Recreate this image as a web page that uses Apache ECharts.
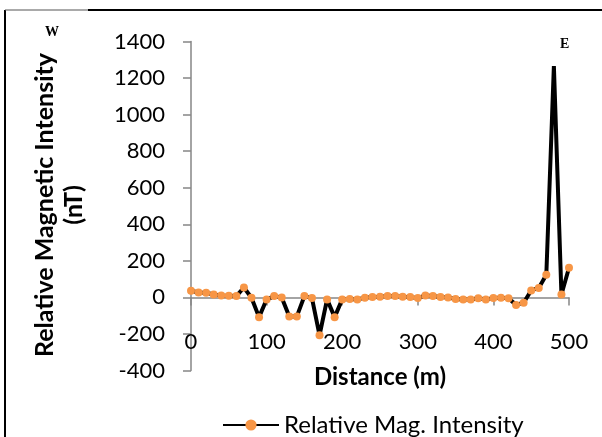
<!DOCTYPE html>
<html>
<head>
<meta charset="utf-8">
<script src="https://cdn.jsdelivr.net/npm/echarts@6/dist/echarts.min.js"></script>
<style>
html,body{margin:0;padding:0;background:#fff;}
#c{width:602px;height:437px;}
</style>
</head>
<body>
<div id="c"></div>
<script>
var distances = [0,10,20,30,40,50,60,70,80,90,100,110,120,130,140,150,160,170,180,190,200,210,220,230,240,250,260,270,280,290,300,310,320,330,340,350,360,370,380,390,400,410,420,430,440,450,460,470,480,490,500];
var intensity = [36,27,25,16,11,9,7,54,-2,-108,-12,7,0,-104,-104,7,-4,-207,-11,-108,-11,-9,-11,-2,2,4,7,7,4,2,-4,11,7,2,0,-9,-12,-11,-5,-11,-4,-2,-5,-41,-29,38,52,124,1265,16,162];
var yTicks = [-400,-200,0,200,400,600,800,1000,1200,1400];
var xTicks = [0,100,200,300,400,500];
var seriesName = 'Relative Mag. Intensity';
var yTitle1 = 'Relative Magnetic Intensity';
var yTitle2 = '(nT)';
var xTitle = 'Distance (m)';
var hiddenMarkerAt = 480;

var FONT = 'Lato, "Open Sans", sans-serif';
var chart = echarts.init(document.getElementById('c'), null, {renderer:'canvas'});
var data = distances.map(function(d,i){
  var item = {value:[d, intensity[i]]};
  if (d === hiddenMarkerAt) item.symbol = 'none';
  return item;
});
chart.setOption({
  animation:false,
  backgroundColor:'#fff',
  grid:{left:191,right:33,top:41.5,bottom:66.5,containLabel:false},
  xAxis:{
    type:'value', min:xTicks[0], max:xTicks[xTicks.length-1], interval:100,
    axisLine:{show:true,onZero:true,lineStyle:{color:'#868686',width:1.5}},
    axisTick:{show:true,length:8,lineStyle:{color:'#868686',width:1.5}},
    axisLabel:{margin:-40,fontSize:22,color:'#000',fontFamily:FONT,formatter:function(v){return String(v);}},
    splitLine:{show:false}
  },
  yAxis:{
    type:'value', min:yTicks[0], max:yTicks[yTicks.length-1], interval:200,
    axisLine:{show:true,onZero:false,lineStyle:{color:'#868686',width:1.5}},
    axisTick:{show:true,length:8,lineStyle:{color:'#868686',width:1.5}},
    axisLabel:{margin:26,fontSize:22,color:'#000',fontFamily:FONT,formatter:function(v){return String(v);}},
    splitLine:{show:false}
  },
  legend:{
    show:true, left:217, top:408, itemWidth:56, itemHeight:14, itemGap:10,
    textStyle:{fontSize:24,color:'#000',fontFamily:FONT},
    data:[seriesName]
  },
  series:[{
    name:seriesName, type:'line', data:data,
    symbol:'circle', symbolSize:8,
    lineStyle:{color:'#000',width:4},
    itemStyle:{color:'#F79646',borderWidth:0},
    z:3
  }],
  graphic:[
    {type:'line',shape:{x1:5,y1:10,x2:5,y2:437},style:{stroke:'#000',lineWidth:2}},
    {type:'line',shape:{x1:5,y1:10,x2:88,y2:10},style:{stroke:'#555',lineWidth:1}},
    {type:'line',shape:{x1:88,y1:10,x2:602,y2:10},style:{stroke:'#000',lineWidth:2}},
    {type:'text',left:45,top:25,style:{text:'W',font:'bold 14px "Liberation Serif", serif',fill:'#000'}},
    {type:'text',left:560,top:37,style:{text:'E',font:'bold 14px "Liberation Serif", serif',fill:'#000'}},
    {type:'text',x:45,y:205,rotation:Math.PI/2,style:{text:yTitle1,font:'bold 25px '+FONT,fill:'#000',align:'center',verticalAlign:'middle'}},
    {type:'text',x:74,y:205,rotation:Math.PI/2,style:{text:yTitle2,font:'bold 25px '+FONT,fill:'#000',align:'center',verticalAlign:'middle'}},
    {type:'text',x:380,y:377,style:{text:xTitle,font:'bold 24px '+FONT,fill:'#000',align:'center',verticalAlign:'middle'}}
  ]
});
</script>
</body>
</html>
